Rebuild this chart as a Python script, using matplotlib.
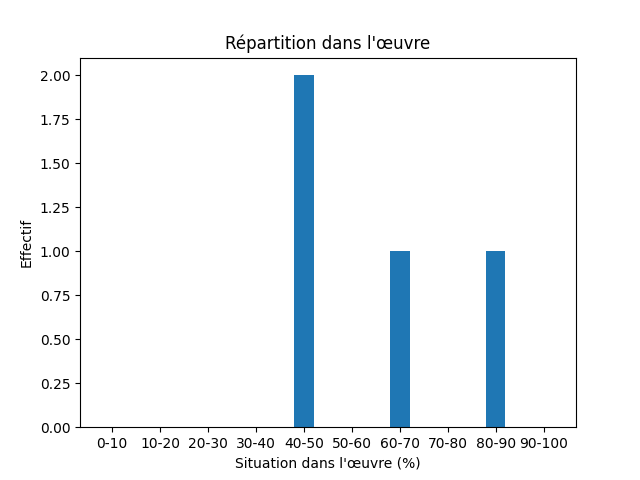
import matplotlib
matplotlib.use("Agg")
import matplotlib.pyplot as plt

tranches = ["0-10", "10-20", "20-30", "30-40", "40-50",
            "50-60", "60-70", "70-80", "80-90", "90-100"]
effectifs = [0, 0, 0, 0, 2, 0, 1, 0, 1, 0]

fig, ax = plt.subplots(figsize=(6.4, 4.8), dpi=100)
ax.bar(tranches, effectifs, width=0.4)
ax.set_xlabel("Situation dans l'œuvre (%)")
ax.set_ylabel("Effectif")
ax.set_title("Répartition dans l'œuvre")
ax.yaxis.set_major_formatter(matplotlib.ticker.FormatStrFormatter("%.2f"))

fig.savefig("out.png")
